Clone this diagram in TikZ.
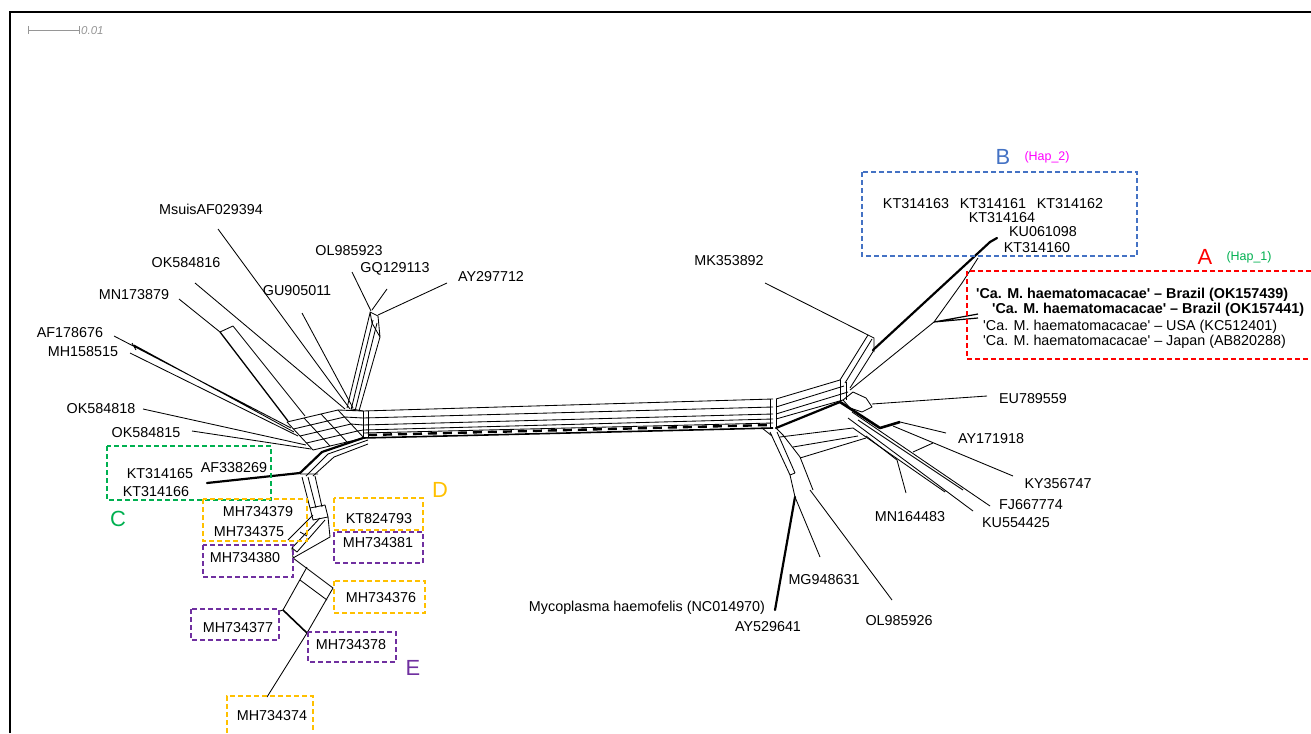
\documentclass[tikz,border=0pt]{standalone}
\usepackage{fontspec}
\setmainfont{Liberation Sans}[Ligatures=TeXOff]
\definecolor{cgreen}{RGB}{0,176,80}
\definecolor{cred}{RGB}{255,0,0}
\definecolor{cblue}{RGB}{68,114,196}
\definecolor{corange}{RGB}{255,192,0}
\definecolor{cpurple}{RGB}{112,48,160}
\definecolor{cmag}{RGB}{255,0,255}
\definecolor{cgray}{RGB}{150,150,150}
\begin{document}
\begin{tikzpicture}[x=1bp,y=-1bp,
  net/.style={line width=0.85bp, line join=round},
  fat/.style={line width=2.2bp, line join=round, line cap=round},
  lab/.style={font=\fontsize{14.4}{16}\selectfont, inner sep=0pt, text height=10.3bp, text depth=0pt},
  blab/.style={lab, font=\fontsize{14.4}{16}\selectfont\bfseries},
  big/.style={font=\fontsize{22}{24}\selectfont, inner sep=0pt, text height=15.8bp, text depth=0pt},
  hap/.style={font=\fontsize{12.5}{14}\selectfont, inner sep=0pt},
  grp/.style={dash pattern=on 5bp off 3bp, line width=1.6bp},
]
\useasboundingbox (0,0) rectangle (1311,733);
% frame
\draw[line width=2bp] (10,733) -- (10,12) -- (1311,12);
% scale bar
\coordinate (sb1) at (28,30); \coordinate (sb2) at (79,30);
\draw[cgray, line width=0.8bp] (sb1) -- (sb2) (28,26) -- (28,34) (79,26) -- (79,34);
\node[anchor=west, inner sep=0pt, text=cgray, font=\fontsize{11.5}{13}\selectfont\itshape] (sbl) at (81,31) {0.01};

% ---------------- left hub grid ----------------
\foreach \j in {0,...,4} \draw[net] ({287+6.5*\j},{422+7*\j}) -- ({338+6.5*\j},{410+7*\j});
\foreach \i in {0,...,3} \draw[net] ({287+17*\i},{422-4*\i}) -- ({313+17*\i},{450-4*\i});
% grid to band
\draw[net] (338,410) -- (363,411) (344.5,417) -- (363,418) (351,424) -- (363,425) (357.5,431) -- (363,430) (364,438) -- (363,438);
\draw[net] (352,409) -- (363,411);
% ---------------- central band ----------------
\draw[net] (363,411) -- (363,438) (368,411) -- (368,438);
\foreach \yl/\yr in {411/399, 418/407, 425/414, 430/419} \draw[net] (363,\yl) -- (773,\yr);
\draw[net] (363,433) -- (773,423);
\draw[line width=2.4bp, dash pattern=on 9bp off 6bp] (368,435) -- (770,425);
\draw[line width=1.6bp] (363,438) -- (773,428);
\draw[net] (770,399) -- (770,428) (776,399) -- (776,428);
% ---------------- right hub ----------------
\draw[net] (776,399) -- (840,380) (776,407) -- (844,386) (776,414) -- (848,392) (776,419) -- (843,400);
\draw[fat] (776,428) -- (840,402);
\draw[net] (840,380) -- (840,402) (846,382) -- (846,400);
% upward strip
\draw[net] (840,380) -- (868,335) (845,383) -- (872,339) (850,388) -- (874,350);
\draw[net] (868,335) -- (874,338) -- (874,352);
\coordinate (mkE) at (868,335);
% B branch
\coordinate (bE) at (997,238); \coordinate (bS) at (873,350);
\draw[fat] (bS) -- (990,242) -- (bE);
% A branch
\coordinate (aJ) at (934,322);
\draw[net] (850,390) -- (aJ) -- (962,283) -- (978,258);
\draw[line width=1.2bp] (aJ) -- (978,314) (aJ) -- (978,318);
% right lower
\draw[net] (843,400) -- (853,392) -- (866,398) -- (872,407) -- (862,412) -- (850,408) -- cycle;
\draw[line width=2.6bp, line join=round] (840,402) -- (880,428) -- (900,422);
\draw[net] (852,412) -- (990,506) (848,418) -- (973,511) (858,420) -- (963,490) (853,428) -- (945,492);
\draw[net] (913,452) -- (933,443);
\draw[net] (780,437) -- (853,428) (793,447) -- (858,436) (800,458) -- (866,438);
\draw[net] (762,428) -- (772,436) (776,428) -- (783,435);
\draw[net] (770,432) -- (790,475) -- (795,497) (777,432) -- (795,473) (783,435) -- (800,457) -- (813,490) (790,475) -- (795,473);
% ---------------- upper left branch ----------------
\draw[net] (370,312) -- (378,316) -- (380,337) -- (372,323) -- cycle;
\draw[net] (370,313) -- (347,408) (373,320) -- (351,410) (377,323) -- (355,411) (380,337) -- (359,411);
% ---------------- lower left ----------------
\coordinate (afJ) at (300,473);
\draw[fat] (afJ) -- (322,452) -- (363,438);
\draw[net] (306,476) -- (328,454) -- (368,440) (313,476) -- (334,457) -- (368,444);
\draw[net] (300,474) -- (318,474) (302,477) -- (310,508) (308,477) -- (316,508) (315,476) -- (322,507);
\draw[net] (310,508) -- (325,505) -- (328,517) -- (313,520) -- cycle;
\draw[net] (313,515) -- (288,540) (320,518) -- (292,548) (325,520) -- (297,552);
\draw[net] (292,548) -- (297,552) (300,532) -- (307,536);
\draw[net] (328,517) -- (330,537) -- (293,558) -- (292,548);
\draw[net] (293,558) -- (333,588) -- (307,633);
\draw[net] (307,567) -- (283,610) (300,580) -- (327,600);
\draw[line width=1.6bp] (283,610) -- (307,633);
\coordinate (m77) at (283,610); \coordinate (m74) at (307,633);

% ---------------- labels ----------------
\node[lab] (Msuis) at (211,209) {MsuisAF029394};
\node[lab] (OK816) at (186,262) {OK584816};
\node[lab] (MN879) at (134,294) {MN173879};
\node[lab] (AF676) at (70,332) {AF178676};
\node[lab] (MH515) at (83,351) {MH158515};
\node[lab] (OK818) at (101,408) {OK584818};
\node[lab] (OK815) at (146,432) {OK584815};
\node[lab] (GU011) at (297,290) {GU905011};
\node[lab] (OL923) at (349,250) {OL985923};
\node[lab] (GQ113) at (395,267) {GQ129113};
\node[lab] (AY712) at (491,276) {AY297712};
\node[lab] (MK892) at (729,260) {MK353892};
\node[lab] (KT3x) at (993,203) {KT314163\hspace{0.75em}KT314161\hspace{0.75em}KT314162};
\node[lab] (KT164) at (1002,217) {KT314164};
\node[lab] (KU098) at (1043,231) {KU061098};
\node[lab] (KT160) at (1037,247) {KT314160};
\node[lab] (EU559) at (1033,398) {EU789559};
\node[lab] (AY918) at (991,438) {AY171918};
\node[lab] (KY747) at (1058,483) {KY356747};
\node[lab] (FJ774) at (1031,504) {FJ667774};
\node[lab] (KU425) at (1016,522) {KU554425};
\node[lab] (MN483) at (910,516) {MN164483};
\node[lab] (MG631) at (824,579) {MG948631};
\node[lab] (OL926) at (899,620) {OL985926};
\node[lab] (AY641) at (768,626) {AY529641};
\node[lab] (Myco) at (647,606) {Mycoplasma haemofelis (NC014970)};
\node[lab] (KT165) at (160,473) {KT314165};
\node[lab] (AF269) at (234,467) {AF338269};
\node[lab] (KT166) at (156,491) {KT314166};
\node[lab] (M79) at (258,511) {MH734379};
\node[lab] (M75) at (249,531) {MH734375};
\node[lab] (M80) at (245,557) {MH734380};
\node[lab] (KT793) at (379,518) {KT824793};
\node[lab] (M81) at (378,542) {MH734381};
\node[lab] (M76) at (381,597) {MH734376};
\node[lab] (M77) at (238,627) {MH734377};
\node[lab] (M78) at (351,644) {MH734378};
\node[lab] (M74) at (272,715) {MH734374};
% A box texts
\node[blab, anchor=base west] (A1) at (976,298) {'Ca. M. haematomacacae' – Brazil (OK157439)};
\node[blab, anchor=base west] (A2) at (992,313) {'Ca. M. haematomacacae' – Brazil (OK157441)};
\node[lab, anchor=base west] (A3) at (983,330) {'Ca. M. haematomacacae' – USA (KC512401)};
\node[lab, anchor=base west] (A4) at (983,345) {'Ca. M. haematomacacae' – Japan (AB820288)};
% group letters
\node[big, text=cred] (gA) at (1205,257) {A};
\node[hap, text=cgreen] (hA) at (1249,257) {(Hap\_1)};
\node[big, text=cblue] (gB) at (1003,157) {B};
\node[hap, text=cmag] (hB) at (1047,157) {(Hap\_2)};
\node[big, text=cgreen] (gC) at (118,519) {C};
\node[big, text=corange] (gD) at (440,490) {D};
\node[big, text=cpurple] (gE) at (413,668) {E};

% ---------------- leaders ----------------
\coordinate (hMs) at (350,409); \coordinate (hOK6) at (345,409); \coordinate (hGU) at (353,408);
\draw[net] (218,229) -- (hMs);
\draw[net] (195,283) -- (hOK6);
\draw[net] (302,313) -- (hGU);
\draw[net] (179,299) -- (220,332);
\draw[line width=1.3bp] (220,332) -- (288,421);
\draw[net] (233,326) -- (305,416) (220,332) -- (233,326);
\draw[net] (114,336) -- (291,428) (134,345) -- (294,432) (130,353) -- (298,436) (132,343) -- (136,350);
\draw[net] (143,409) -- (306,445);
\draw[net] (192,431) -- (311,449);
\draw[net] (352,272) -- (371,311);
\draw[net] (387,289) -- (372,310);
\draw[net] (447,283) -- (378,315);
\draw[net] (765,283) -- (mkE);
\draw[net] (987,396) -- (872,404);
\draw[net] (946,433) -- (900,422);
\draw[net] (1013,476) -- (893,426);
\draw[net] (906,493) -- (897,460) -- (866,436);
\draw[net] (820,557) -- (795,497);
\draw[net] (892,600) -- (810,490);
\draw[fat] (775,610) -- (795,497);
\draw[fat] (207,483) -- (afJ);
\draw[net] (280,611) -- (m77);
\draw[net] (267,697) -- (m74);

% ---------------- group boxes ----------------
\draw[grp, cblue] (862,172) rectangle (1137,256);
\draw[grp, cred] (1311,271) -- (967,271) -- (967,359) -- (1311,359);
\draw[grp, cgreen] (107,446) rectangle (271,500);
\draw[grp, corange] (203,499) rectangle (307,541);
\draw[grp, cpurple] (203,545) rectangle (293,577);
\draw[grp, corange] (334,498) rectangle (423,530);
\draw[grp, cpurple] (334,532) rectangle (423,563);
\draw[grp, corange] (334,581) rectangle (425,613);
\draw[grp, cpurple] (191,609) rectangle (279,640);
\draw[grp, cpurple] (308,632) rectangle (396,662);
\draw[grp, corange] (227,733) -- (227,696) -- (313,696) -- (313,733);
\end{tikzpicture}
\end{document}
